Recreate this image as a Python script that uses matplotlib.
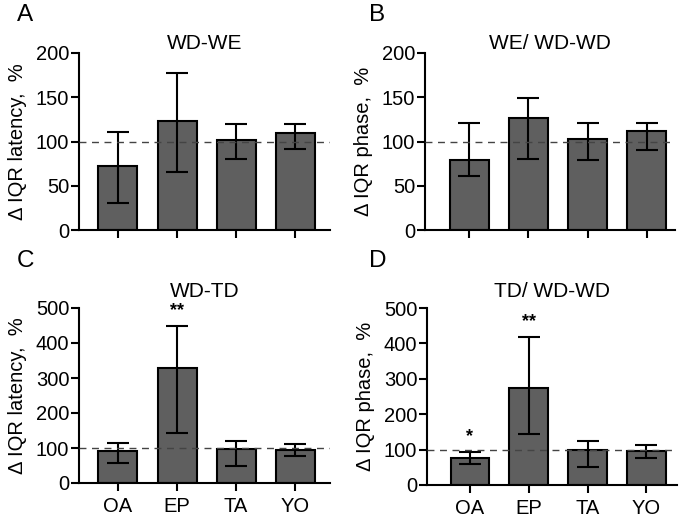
import numpy as np
import matplotlib
matplotlib.use('Agg')
import matplotlib.pyplot as plt

plt.rcParams['font.family'] = ['Liberation Sans', 'DejaVu Sans']

groups = ['OA', 'EP', 'TA', 'YO']

# A: WD-WE, latency
a_mean = [72, 123, 102, 110]
a_low = [30, 65, 80, 91]
a_high = [111, 177, 120, 120]
# B: WE/ WD-WD, phase
b_mean = [79, 126, 103, 112]
b_low = [61, 80, 79, 90]
b_high = [121, 149, 121, 121]
# C: WD-TD, latency
c_mean = [92, 329, 97, 94]
c_low = [58, 144, 49, 76]
c_high = [114, 448, 120, 112]
# D: TD/ WD-WD, phase
d_mean = [75, 275, 99, 97]
d_low = [59, 145, 50, 76]
d_high = [92, 419, 124, 114]

c_stars = ['', '**', '', '']
d_stars = ['*', '**', '', '']

W, H = 684, 519
fig = plt.figure(figsize=(W / 100, H / 100), dpi=100)


def box(l, r, b, t):
    return [l / W, (H - b) / H, (r - l) / W, (b - t) / H]


panels = [
    dict(rect=box(79, 330, 230, 53), mean=a_mean, low=a_low, high=a_high, ylim=200, yticks=[0, 50, 100, 150, 200],
         title='WD-WE', tpad=0, ylabel='Δ IQR latency,  %', letter='A', lx=17, ly=15, xlim=(-0.66, 3.59), stars=None, xl=False),
    dict(rect=box(425, 675, 230, 53), mean=b_mean, low=b_low, high=b_high, ylim=200, yticks=[0, 50, 100, 150, 200],
         title='WE/ WD-WD', tpad=0, ylabel='Δ IQR phase,  %', letter='B', lx=369, ly=15, xlim=(-0.75, 3.48), stars=None, xl=False),
    dict(rect=box(79, 330, 483, 308), mean=c_mean, low=c_low, high=c_high, ylim=500, yticks=[0, 100, 200, 300, 400, 500],
         title='WD-TD', tpad=8, ylabel='Δ IQR latency,  %', letter='C', lx=17, ly=261, xlim=(-0.66, 3.59), stars=c_stars, xl=True),
    dict(rect=box(427, 677, 485, 308), mean=d_mean, low=d_low, high=d_high, ylim=500, yticks=[0, 100, 200, 300, 400, 500],
         title='TD/ WD-WD', tpad=8, ylabel='Δ IQR phase,  %', letter='D', lx=369, ly=261, xlim=(-0.73, 3.52), stars=d_stars, xl=True),
]

for p in panels:
    ax = fig.add_axes(p['rect'])
    x = np.arange(len(groups))
    mean = np.array(p['mean'])
    yerr = [mean - np.array(p['low']), np.array(p['high']) - mean]
    ax.bar(x, mean, width=0.66, color='#5f5f5f', edgecolor='black', linewidth=1.5, zorder=2)
    ax.errorbar(x, mean, yerr=yerr, fmt='none', ecolor='black', elinewidth=1.5,
                capsize=8, capthick=1.5, zorder=3)
    ax.axhline(100, color='#444444', linestyle=(0, (5, 4)), linewidth=1, zorder=4)
    ax.set_xlim(*p['xlim'])
    ax.set_ylim(0, p['ylim'])
    ax.set_yticks(p['yticks'])
    ax.set_xticks(x)
    ax.set_xticklabels(groups if p['xl'] else [])
    ax.tick_params(axis='both', labelsize=14.5, width=1.5, length=6, pad=1, direction='out')
    ax.tick_params(axis='x', pad=4)
    for s in ['top', 'right']:
        ax.spines[s].set_visible(False)
    for s in ['left', 'bottom']:
        ax.spines[s].set_linewidth(1.5)
    ax.set_ylabel(p['ylabel'], fontsize=14.5, va='center')
    ax.yaxis.set_label_coords(-0.245, 0.5)
    ax.set_title(p['title'], fontsize=15, pad=p['tpad'])
    if p['stars']:
        for xi, st, hi in zip(x, p['stars'], p['high']):
            if st:
                ax.text(xi, hi + p['ylim'] * 0.04, st, ha='center', va='bottom', fontsize=13, fontweight='bold')
    fig.text(p['lx'] / W, 1 - p['ly'] / H, p['letter'], fontsize=17.5, ha='left', va='center')

fig.savefig('out.png', dpi=100)
